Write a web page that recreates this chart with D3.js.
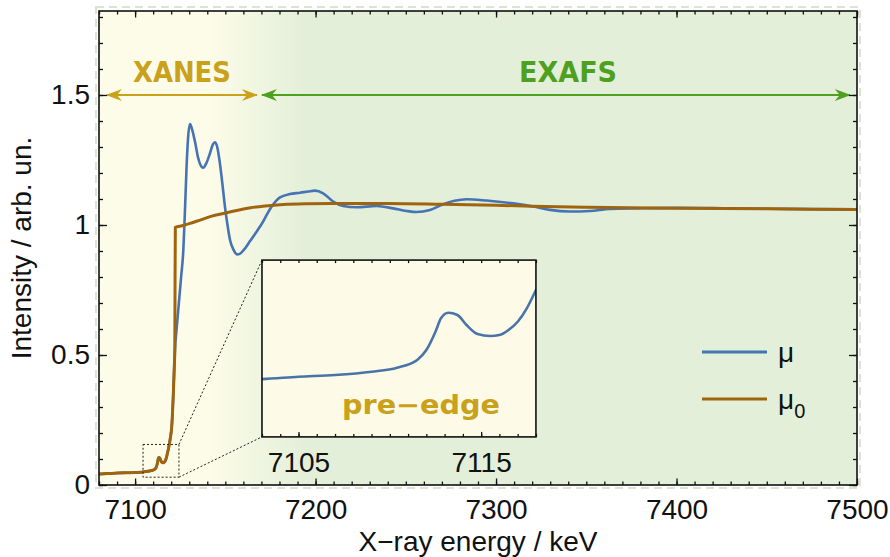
<!DOCTYPE html>
<html>
<head>
<meta charset="utf-8">
<script src="https://cdn.jsdelivr.net/npm/d3@7"></script>
<style>
  html, body { margin: 0; padding: 0; background: #ffffff; }
  svg { display: block; }
  text { font-family: "Liberation Sans", Arial, sans-serif; fill: #111; }
</style>
</head>
<body>
<svg id="chart" width="890" height="557"></svg>
<script>
// ---------------- DATA ----------------
const muEnergy = [7080, 7085, 7090, 7095, 7100, 7103, 7105, 7107, 7109, 7110.4, 7111.5, 7112, 7112.5, 7112.8,
  7113.2, 7113.7, 7114.2, 7114.8, 7115.5, 7116, 7116.5, 7117, 7117.5, 7118, 7118.5, 7119.5, 7120.3, 7121.2, 7121.7,
  7122.1, 7123, 7124, 7125.5, 7126.7, 7127.6, 7128.5, 7129.3, 7130.4, 7131.5, 7133.2, 7135, 7137.7, 7139.5, 7141.5,
  7143, 7144.3, 7145.5, 7147, 7148.5, 7149.8, 7151.2, 7152.6, 7154.5, 7156.5, 7158, 7160, 7163.7, 7167.3, 7171,
  7173, 7175.6, 7178, 7180.3, 7185.8, 7191.4, 7196, 7199.7, 7204.2, 7209.8, 7215.3, 7222.7, 7233.8, 7243, 7250.4,
  7256, 7263.4, 7270.7, 7277, 7283.7, 7294.7, 7309.5, 7320.6, 7329.9, 7341, 7352, 7363, 7378, 7402, 7430, 7460, 7500];
const muValue = [0.042, 0.044, 0.046, 0.047, 0.048, 0.049, 0.051, 0.0525, 0.0553, 0.0587, 0.0653, 0.0737, 0.0892, 0.1006,
  0.1053, 0.1034, 0.0949, 0.0873, 0.0856, 0.0864, 0.0907, 0.0977, 0.1091, 0.1246, 0.14, 0.18, 0.224, 0.354, 0.45,
  0.52, 0.60, 0.68, 0.80, 0.90, 1.05, 1.22, 1.33, 1.388, 1.37, 1.32, 1.256, 1.22, 1.238, 1.276,
  1.308, 1.318, 1.30, 1.237, 1.15, 1.07, 1.0, 0.942, 0.905, 0.887, 0.889, 0.902, 0.938, 0.974, 1.014,
  1.04, 1.07, 1.092, 1.106, 1.119, 1.124, 1.129, 1.132, 1.122, 1.09, 1.073, 1.068, 1.073, 1.064, 1.054,
  1.05, 1.058, 1.08, 1.093, 1.099, 1.094, 1.083, 1.071, 1.058, 1.052, 1.054, 1.062, 1.064, 1.066, 1.064, 1.062, 1.06];

const mu0Energy = [7080, 7085, 7090, 7095, 7100, 7103, 7105, 7107, 7109, 7110.4, 7111.5, 7112, 7112.5, 7112.8,
  7113.2, 7113.7, 7114.2, 7114.8, 7115.5, 7116, 7116.5, 7117, 7117.5, 7118, 7118.5, 7119.5, 7120.3, 7121.2, 7121.7,
  7122.0, 7122.15, 7122.3, 7126, 7130, 7136, 7142, 7150, 7157, 7164, 7172, 7182, 7195, 7210, 7240, 7270, 7300,
  7320, 7350, 7400, 7450, 7500];
const mu0Value = [0.042, 0.044, 0.046, 0.047, 0.048, 0.049, 0.051, 0.0525, 0.0553, 0.0587, 0.0653, 0.0737, 0.0892, 0.1006,
  0.1053, 0.1034, 0.0949, 0.0873, 0.0856, 0.0864, 0.0907, 0.0977, 0.1091, 0.1246, 0.14, 0.18, 0.224, 0.354, 0.45,
  0.52, 0.80, 0.991, 0.997, 1.005, 1.019, 1.033, 1.046, 1.057, 1.066, 1.073, 1.079, 1.082, 1.083, 1.083, 1.080, 1.076,
  1.072, 1.068, 1.064, 1.062, 1.06];

const xMajorTicks = [7100, 7200, 7300, 7400, 7500];
const yMajorTicks = [0, 0.5, 1, 1.5];
const yTickLabels = ["0", "0.5", "1", "1.5"];
const insetLabelTicks = [7105, 7115];
const regionNames = ["XANES", "EXAFS"];
const regionStart = [7084.4, 7170.3];
const regionEnd = [7167.5, 7496];
const legendNames = ["μ", "μ"];
const legendSubs = ["", "0"];

// ---------------- LAYOUT ----------------
const svg = d3.select("#chart");
const L = 99, R = 857, T = 11, B = 485;
const x = d3.scaleLinear([7080, 7500], [L, R]);
const y = d3.scaleLinear([0, 1.823], [B, T]);

const cBlue = "#4673b4", cBrown = "#a0640f", cGold = "#c9a11a", cGreen = "#4fa01e";

const defs = svg.append("defs");
const grad = defs.append("linearGradient").attr("id", "bg").attr("gradientUnits", "userSpaceOnUse")
  .attr("x1", x(7140)).attr("x2", x(7195)).attr("y1", 0).attr("y2", 0);
grad.append("stop").attr("offset", 0).attr("stop-color", "#fdfce9");
grad.append("stop").attr("offset", 1).attr("stop-color", "#e3efd9");

function marker(id, col) {
  defs.append("marker").attr("id", id).attr("viewBox", "-16 -7 18 14")
    .attr("refX", 0).attr("refY", 0).attr("markerWidth", 18).attr("markerHeight", 14)
    .attr("markerUnits", "userSpaceOnUse").attr("orient", "auto-start-reverse")
    .append("path").attr("d", "M1,0 L-15,-6 L-10,0 L-15,6 Z").attr("fill", col);
}
marker("mGold", cGold);
marker("mGreen", cGreen);

defs.append("clipPath").attr("id", "clipMain").append("rect")
  .attr("x", L).attr("y", T).attr("width", R - L).attr("height", B - T);

// background
svg.append("rect").attr("x", L - 3).attr("y", T - 4).attr("width", R - L + 6).attr("height", B - T + 7)
  .attr("fill", "none").attr("stroke", "#dbe3d2").attr("stroke-width", 2).attr("stroke-dasharray", "8,5");
svg.append("rect").attr("x", L).attr("y", T).attr("width", R - L).attr("height", B - T).attr("fill", "url(#bg)");

// region arrows
regionNames.forEach((name, i) => {
  const col = i === 0 ? cGold : cGreen;
  const mid = i === 0 ? "mGold" : "mGreen";
  svg.append("line").attr("x1", x(regionStart[i])).attr("x2", x(regionEnd[i]))
    .attr("y1", y(1.5)).attr("y2", y(1.5)).attr("stroke", col).attr("stroke-width", 2.2)
    .attr("marker-start", `url(#${mid})`).attr("marker-end", `url(#${mid})`);
  const cx = i === 0 ? (x(regionStart[i]) + x(regionEnd[i])) / 2 : 568;
  svg.append("text").attr("x", cx).attr("y", 82).attr("text-anchor", "middle")
    .style("font-family", "'DejaVu Sans', Verdana, sans-serif").style("font-weight", "bold")
    .style("font-size", "29px").style("fill", col)
    .attr("textLength", 98).attr("lengthAdjust", "spacingAndGlyphs").text(name);
});

// curves
const line = d3.line().x(d => x(d[0])).y(d => y(d[1])).curve(d3.curveMonotoneX);
const muData = muEnergy.map((e, i) => [e, muValue[i]]);
const mu0Data = mu0Energy.map((e, i) => [e, mu0Value[i]]);
const curves = svg.append("g").attr("clip-path", "url(#clipMain)");
curves.append("path").attr("d", line(muData)).attr("fill", "none").attr("stroke", cBlue)
  .attr("stroke-width", 2.6).attr("stroke-linejoin", "round");
curves.append("path").attr("d", line(mu0Data)).attr("fill", "none").attr("stroke", cBrown)
  .attr("stroke-width", 3).attr("stroke-linejoin", "round");

// axes (ticks inward)
const minorX = d3.range(7080, 7501, 10);
const minorY = d3.range(0, 1.81, 0.1);
function noDomain(g) { g.select(".domain").remove(); g.selectAll("line").attr("stroke", "#111").attr("stroke-width", 1.3); }
svg.append("g").attr("transform", `translate(0,${B})`)
  .call(d3.axisBottom(x).tickValues(minorX).tickSize(-3.5).tickFormat("")).call(noDomain);
svg.append("g").attr("transform", `translate(0,${T})`)
  .call(d3.axisTop(x).tickValues(minorX).tickSize(-3.5).tickFormat("")).call(noDomain);
svg.append("g").attr("transform", `translate(${L},0)`)
  .call(d3.axisLeft(y).tickValues(minorY).tickSize(-4).tickFormat("")).call(noDomain);
svg.append("g").attr("transform", `translate(${R},0)`)
  .call(d3.axisRight(y).tickValues(minorY).tickSize(-4).tickFormat("")).call(noDomain);

const xb = svg.append("g").attr("transform", `translate(0,${B})`)
  .call(d3.axisBottom(x).tickValues(xMajorTicks).tickSize(-6.5).tickPadding(14).tickFormat(d3.format("d")))
  .call(noDomain);
xb.selectAll("text").style("font-size", "28px").style("font-family", "'Liberation Sans', Arial, sans-serif").attr("fill", "#111");
svg.append("g").attr("transform", `translate(0,${T})`)
  .call(d3.axisTop(x).tickValues(xMajorTicks).tickSize(-6.5).tickFormat("")).call(noDomain);
const yl = svg.append("g").attr("transform", `translate(${L},0)`)
  .call(d3.axisLeft(y).tickValues(yMajorTicks).tickSize(-8).tickPadding(9).tickFormat((d, i) => yTickLabels[i]))
  .call(noDomain);
yl.selectAll("text").style("font-size", "28px").style("font-family", "'Liberation Sans', Arial, sans-serif").attr("fill", "#111");
svg.append("g").attr("transform", `translate(${R},0)`)
  .call(d3.axisRight(y).tickValues(yMajorTicks).tickSize(-8).tickFormat("")).call(noDomain);

svg.append("rect").attr("x", L).attr("y", T).attr("width", R - L).attr("height", B - T)
  .attr("fill", "none").attr("stroke", "#111").attr("stroke-width", 1.6);

// axis titles
svg.append("text").attr("x", (L + R) / 2).attr("y", 551).attr("text-anchor", "middle")
  .style("font-size", "28px").text("X−ray energy / keV");
svg.append("text").attr("transform", `translate(31,${(T + B) / 2}) rotate(-90)`).attr("text-anchor", "middle")
  .style("font-size", "28px").text("Intensity / arb. un.");

// zoom box + connector lines
const zx0 = 7104.4, zx1 = 7124.3, zy0 = 0.03, zy1 = 0.156;
const ix0 = x(7170.3), ix1 = x(7322.1), iy0 = y(0.865), iy1 = y(0.185);
svg.append("rect").attr("x", x(zx0)).attr("y", y(zy1)).attr("width", x(zx1) - x(zx0)).attr("height", y(zy0) - y(zy1))
  .attr("fill", "none").attr("stroke", "#222").attr("stroke-width", 1).attr("stroke-dasharray", "2,2");
svg.append("line").attr("x1", x(zx1)).attr("y1", y(zy1)).attr("x2", ix0).attr("y2", iy0)
  .attr("stroke", "#222").attr("stroke-width", 1).attr("stroke-dasharray", "2,2");
svg.append("line").attr("x1", x(zx1)).attr("y1", y(zy0)).attr("x2", ix0).attr("y2", iy1)
  .attr("stroke", "#222").attr("stroke-width", 1).attr("stroke-dasharray", "2,2");

// inset
const xi = d3.scaleLinear([7103, 7118], [ix0, ix1]);
const yi = d3.scaleLinear([0, 0.15], [iy1, iy0]);
defs.append("clipPath").attr("id", "clipInset").append("rect")
  .attr("x", ix0).attr("y", iy0).attr("width", ix1 - ix0).attr("height", iy1 - iy0);
svg.append("rect").attr("x", ix0).attr("y", iy0).attr("width", ix1 - ix0).attr("height", iy1 - iy0)
  .attr("fill", "#fdfbe8");
const lineI = d3.line().x(d => xi(d[0])).y(d => yi(d[1])).curve(d3.curveMonotoneX);
svg.append("g").attr("clip-path", "url(#clipInset)").append("path").attr("d", lineI(muData))
  .attr("fill", "none").attr("stroke", "#4a74a8").attr("stroke-width", 2.6);
const minorI = d3.range(7103, 7118.1, 1);
svg.append("g").attr("transform", `translate(0,${iy1})`)
  .call(d3.axisBottom(xi).tickValues(minorI).tickSize(-3).tickFormat("")).call(noDomain);
svg.append("g").attr("transform", `translate(0,${iy0})`)
  .call(d3.axisTop(xi).tickValues(minorI).tickSize(-3).tickFormat("")).call(noDomain);
const xil = svg.append("g").attr("transform", `translate(0,${iy1})`)
  .call(d3.axisBottom(xi).tickValues(insetLabelTicks).tickSize(-5).tickPadding(15).tickFormat(d3.format("d")))
  .call(noDomain);
xil.selectAll("text").style("font-size", "28px").style("font-family", "'Liberation Sans', Arial, sans-serif").attr("fill", "#111");
svg.append("rect").attr("x", ix0).attr("y", iy0).attr("width", ix1 - ix0).attr("height", iy1 - iy0)
  .attr("fill", "none").attr("stroke", "#111").attr("stroke-width", 1.6);
svg.append("text").attr("x", 421).attr("y", 414).attr("text-anchor", "middle")
  .style("font-family", "'DejaVu Sans', Verdana, sans-serif").style("font-weight", "bold")
  .style("font-size", "26px").style("fill", cGold)
  .attr("textLength", 158).attr("lengthAdjust", "spacingAndGlyphs").text("pre−edge");

// legend
const legCols = [cBlue, cBrown];
const legY = [352, 399];
legendNames.forEach((n, i) => {
  svg.append("line").attr("x1", 702).attr("x2", 767).attr("y1", legY[i]).attr("y2", legY[i])
    .attr("stroke", legCols[i]).attr("stroke-width", 3);
  const t = svg.append("text").attr("x", 778).attr("y", legY[i] + 10).style("font-size", "28px").text(n);
  if (legendSubs[i]) t.append("tspan").attr("dy", 9).style("font-size", "20px").text(legendSubs[i]);
});
</script>
</body>
</html>
